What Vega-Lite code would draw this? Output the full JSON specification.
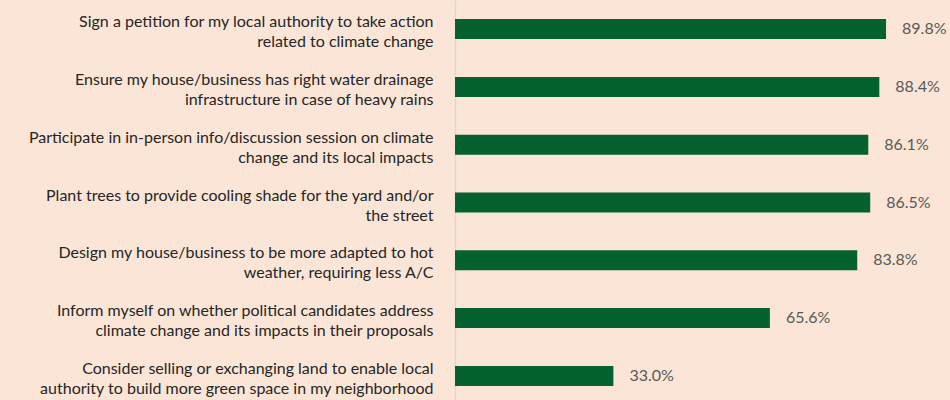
{
  "$schema": "https://vega.github.io/schema/vega-lite/v6.json",
  "width": 480,
  "height": 405,
  "autosize": "none",
  "padding": {"left": 455, "top": 0, "right": 15, "bottom": 0},
  "background": "#FBE5D6",
  "config": {"view": {"stroke": null}, "font": "Lato"},
  "data": {
    "values": [
      {"label": "Sign a petition for my local authority to take action|related to climate change", "value": 89.8},
      {"label": "Ensure my house/business has right water drainage|infrastructure in case of heavy rains", "value": 88.4},
      {"label": "Participate in in-person info/discussion session on climate|change and its local impacts", "value": 86.1},
      {"label": "Plant trees to provide cooling shade for the yard and/or|the street", "value": 86.5},
      {"label": "Design my house/business to be more adapted to hot|weather, requiring less A/C", "value": 83.8},
      {"label": "Inform myself on whether political candidates address|climate change and its impacts in their proposals", "value": 65.6},
      {"label": "Consider selling or exchanging land to enable local|authority to build more green space in my neighborhood", "value": 33.0}
    ]
  },
  "transform": [{"calculate": "format(datum.value, '.1f') + '%'", "as": "pct"}],
  "encoding": {
    "y": {
      "field": "label",
      "type": "nominal",
      "sort": null,
      "scale": {"paddingInner": 0.654, "paddingOuter": 0.33},
      "axis": {
        "title": null,
        "domainColor": "#D9D9D9",
        "domainWidth": 1.5,
        "ticks": false,
        "labelExpr": "split(datum.value, '|')",
        "labelAlign": "right",
        "labelBaseline": "middle",
        "labelOffset": -7,
        "labelPadding": 22,
        "labelFontSize": 16,
        "labelColor": "#262626",
        "labelLineHeight": 20,
        "labelLimit": 0,
        "labelFont": "Lato"
      }
    },
    "x": {"field": "value", "type": "quantitative", "scale": {"domain": [0, 100]}, "axis": null}
  },
  "layer": [
    {"mark": {"type": "bar", "color": "#05612F"}},
    {
      "mark": {"type": "text", "align": "left", "baseline": "middle", "dx": 16, "fontSize": 16, "color": "#595959", "font": "Lato"},
      "encoding": {"text": {"field": "pct"}}
    }
  ]
}
